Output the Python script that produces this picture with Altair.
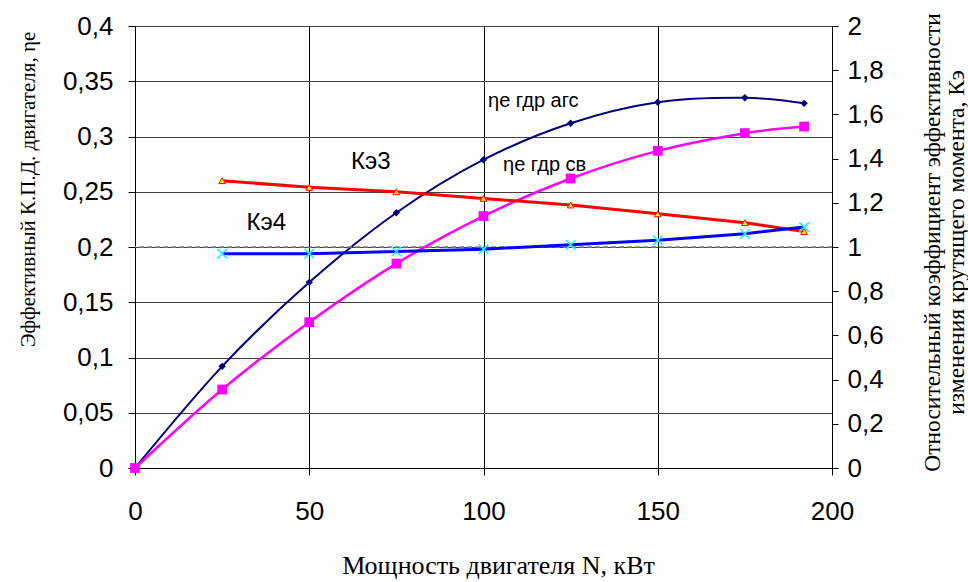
import altair as alt
import pandas as pd

# --- data ---
N_eta = [0, 25, 50, 75, 100, 125, 150, 175, 192]
eta_ags = [0, 0.092, 0.168, 0.231, 0.279, 0.312, 0.331, 0.335, 0.330]
eta_sv = [0, 0.071, 0.132, 0.185, 0.228, 0.262, 0.287, 0.303, 0.309]

N_k = [25, 50, 75, 100, 125, 150, 175, 192]
k3 = [1.30, 1.27, 1.25, 1.22, 1.19, 1.15, 1.11, 1.07]
k4 = [0.97, 0.97, 0.98, 0.99, 1.01, 1.03, 1.06, 1.09]

ref_level = [0.2]

eta_text = ["ηе гдр агс", "ηе гдр св"]
eta_lab_N = [101.3, 105.6]
eta_lab_v = [0.332, 0.274]

k_text = ["Кэ3", "Кэ4"]
k_lab_N = [62, 32]
k_lab_v = [0.277, 0.2215]

left_ticks = [0, 0.05, 0.1, 0.15, 0.2, 0.25, 0.3, 0.35, 0.4]
right_ticks = [0, 0.2, 0.4, 0.6, 0.8, 1.0, 1.2, 1.4, 1.6, 1.8, 2.0]
x_ticks = [0, 50, 100, 150, 200]

df_ags = pd.DataFrame({"N": N_eta, "v": eta_ags})
df_sv = pd.DataFrame({"N": N_eta, "v": eta_sv})
df_k3 = pd.DataFrame({"N": N_k, "v": k3})
df_k4 = pd.DataFrame({"N": N_k, "v": k4})
df_ref = pd.DataFrame({"v": ref_level})
df_eta_lab = pd.DataFrame({"N": eta_lab_N, "v": eta_lab_v, "t": eta_text})
df_k_lab = pd.DataFrame({"N": k_lab_N, "v": k_lab_v, "t": k_text})

FONT = "Liberation Sans"
SERIF = "Liberation Serif"

x_enc = alt.X(
    "N:Q",
    scale=alt.Scale(domain=[0, 200], nice=False, zero=False),
    axis=alt.Axis(
        values=x_ticks, title="Мощность двигателя N, кВт", titleFont=SERIF,
        titleFontSize=26, titleFontWeight="normal", titleColor="#000",
        titleX=363, titleY=105, titleBaseline="alphabetic", titleAlign="center",
        labelFont=FONT, labelFontSize=26, labelColor="#000",
        labelPadding=23, tickSize=7, tickColor="#000", domainColor="#000",
        gridColor="#000", gridWidth=1, labelFlush=False,
    ),
)

y_left_scale = alt.Scale(domain=[0, 0.4], nice=False, zero=True)
y_left_axis = alt.Axis(
    values=left_ticks,
    labelExpr="replace(format(datum.value, '.2~f'), '.', ',')",
    title="Эффективный К.П.Д. двигателя, ηe", titleFont=SERIF,
    titleFontSize=21, titleFontWeight="normal", titleColor="#000",
    titleAngle=270, titleX=-107, titleY=163, titleBaseline="middle", titleAlign="center",
    labelFont=FONT, labelFontSize=26, labelColor="#000",
    labelPadding=15, tickSize=7, tickColor="#000", domainColor="#000",
    gridColor="#404040", gridWidth=1, labelFlush=False,
)

y_left = alt.Y("v:Q", scale=y_left_scale, axis=y_left_axis)

ref_rule = alt.Chart(df_ref).mark_rule(color="#808080", strokeDash=[5, 3], strokeWidth=1.5).encode(y=y_left)
ags_line = alt.Chart(df_ags).mark_line(color="#000080", strokeWidth=2, interpolate="cardinal").encode(x=x_enc, y=y_left)
ags_pts = alt.Chart(df_ags).mark_point(shape="diamond", filled=True, color="#000080", size=55, opacity=1).encode(x=x_enc, y=y_left)
sv_line = alt.Chart(df_sv).mark_line(color="#FF00FF", strokeWidth=2.5, interpolate="cardinal").encode(x=x_enc, y=y_left)
sv_pts = alt.Chart(df_sv).mark_point(shape="square", filled=True, color="#FF00FF", size=95, opacity=1).encode(x=x_enc, y=y_left)

eta_t = alt.Chart(df_eta_lab).mark_text(font=FONT, fontSize=20, align="left", baseline="middle", color="#000").encode(
    x=x_enc, y=y_left, text="t:N")
k_t = alt.Chart(df_k_lab).mark_text(font=FONT, fontSize=24, align="left", baseline="middle", color="#000").encode(
    x=x_enc, y=y_left, text="t:N")

left = alt.layer(ags_line, ref_rule, sv_line, ags_pts, sv_pts, eta_t, k_t)

y_right_scale = alt.Scale(domain=[0, 2], nice=False, zero=True)
y_right_axis = alt.Axis(
    orient="right", values=right_ticks,
    labelExpr="replace(format(datum.value, '.1~f'), '.', ',')",
    title=["Относительный коэффициент эффективности", "изменения крутящего момента, Кэ"],
    titleFont=SERIF, titleFontSize=23.5, titleFontWeight="normal", titleColor="#000",
    titleAngle=270, titleX=100, titleY=216, titleBaseline="middle", titleAlign="center",
    titleLineHeight=24,
    labelFont=FONT, labelFontSize=26, labelColor="#000", labelPadding=9,
    tickSize=6, tickColor="#000", domainColor="#000", grid=False, labelFlush=False,
)
y_right = alt.Y("v:Q", scale=y_right_scale, axis=y_right_axis)

k3_line = alt.Chart(df_k3).mark_line(color="#FF0000", strokeWidth=3).encode(x=x_enc, y=y_right)
k3_pts = alt.Chart(df_k3).mark_point(shape="triangle-up", filled=True, fill="#FFFF00", stroke="#FF0000", strokeWidth=1, size=45, opacity=1).encode(x=x_enc, y=y_right)
k4_line = alt.Chart(df_k4).mark_line(color="#0000FF", strokeWidth=3).encode(x=x_enc, y=y_right)
k4_pts = alt.Chart(df_k4).mark_point(shape="M-1,-1L1,1M-1,1L1,-1", filled=False, stroke="#00FFFF", strokeWidth=1.5, size=90, opacity=1).encode(x=x_enc, y=y_right)

right = alt.layer(k3_line, k4_line, k3_pts, k4_pts)

chart = alt.layer(left, right).resolve_scale(y="independent").properties(
    width=697, height=442,
    autosize=alt.AutoSizeParams(type="none"),
    padding={"left": 135, "top": 26, "right": 136, "bottom": 114},
    background="white",
).configure_view(stroke="#000", strokeWidth=1)

chart.save("out.html", embed_options={"renderer": "svg", "actions": False})
